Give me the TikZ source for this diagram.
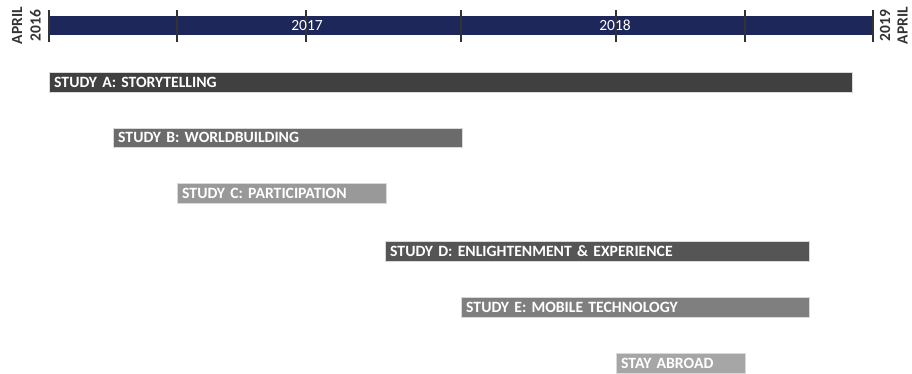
\documentclass[tikz,border=0pt]{standalone}
\usepackage{fontspec}
\setmainfont{Carlito}
\definecolor{navy}{HTML}{1E2759}
\definecolor{tickc}{HTML}{333333}
\definecolor{cA}{HTML}{404040}
\definecolor{cB}{HTML}{6B6B6B}
\definecolor{cC}{HTML}{999999}
\definecolor{cD}{HTML}{555555}
\definecolor{cE}{HTML}{7F7F7F}
\definecolor{cF}{HTML}{A6A6A6}
\begin{document}
\begin{tikzpicture}[x=1pt,y=-1pt,
  studybar/.style={anchor=north west, inner xsep=5pt, inner ysep=0pt,
    minimum height=19.5pt, align=left, text=white,
    font=\fontsize{15.7}{17}\selectfont\bfseries, draw=white!85!black, line width=0.4pt},
  yearlbl/.style={text=white, font=\fontsize{15.5}{17}\selectfont, inner sep=0pt},
  sidelbl/.style={rotate=90, text=tickc, inner sep=0pt,
    font=\fontsize{15.5}{19}\selectfont\bfseries},
  tick/.style={draw=tickc, line width=1.1pt}]
\useasboundingbox (0,0) rectangle (912,373);
% timeline
\node[fill=navy, anchor=north west, minimum width=824pt, minimum height=19pt, inner sep=0pt] (tl) at (49,16) {};
\foreach \x in {49,177,306,461,616,745,873} {
  \draw[tick] (\x,10) -- (\x,42);
}
\node[yearlbl] (y17) at (307,25.5) {2017};
\node[yearlbl] (y18) at (615,25.5) {2018};
\node[sidelbl] (l16a) at (17,25.5) {APRIL};
\node[sidelbl] (l16b) at (35.5,25.5) {2016};
\node[sidelbl] (l19b) at (885,25.5) {2019};
\node[sidelbl] (l19a) at (902.5,25.5) {APRIL};
% study bars
\node[studybar, fill=cA, text width=793pt] (a) at (49,72) {STUDY A: STORYTELLING};
\node[studybar, fill=cB, text width=338.5pt] (b) at (113,127.5) {STUDY B: WORLDBUILDING};
\node[studybar, fill=cC, text width=199pt] (c) at (177,183) {STUDY C: PARTICIPATION};
\node[studybar, fill=cD, text width=414pt] (d) at (385,241) {STUDY D: ENLIGHTENMENT \& EXPERIENCE};
\node[studybar, fill=cE, text width=338pt] (e) at (461,297) {STUDY E: MOBILE TECHNOLOGY};
\node[studybar, fill=cF, text width=119pt] (f) at (616,353) {STAY ABROAD};
\end{tikzpicture}
\end{document}
